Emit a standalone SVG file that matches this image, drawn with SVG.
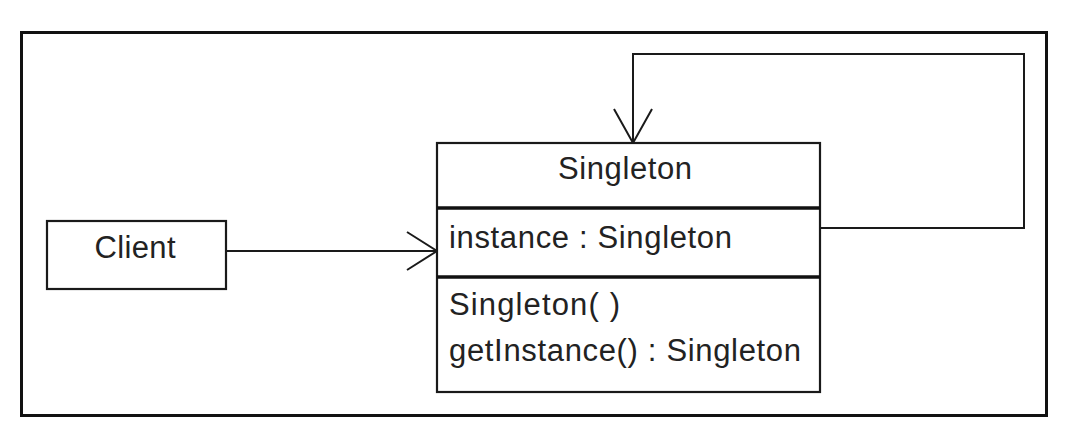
<svg xmlns="http://www.w3.org/2000/svg" width="1074" height="438" viewBox="0 0 1074 438">
<style>
.box{fill:#fff;stroke:#1a1a1a;stroke-width:2.2}
.div{stroke:#111;stroke-width:3.5}
.t{font-family:"Liberation Sans",Arial,sans-serif;font-size:31px;fill:#222}
.c{fill:none;stroke:#1a1a1a;stroke-width:2}
</style>
<rect x="0" y="0" width="1074" height="438" fill="#fff"/>
<rect x="21.5" y="32.5" width="1025" height="383" fill="none" stroke="#111" stroke-width="3"/>
<g id="connectors">
<path class="c" d="M226,251 H437"/>
<path class="c" d="M407,232 L437,251 L407,270"/>
<path class="c" d="M820,228 H1024 V54 H633 V143"/>
<path class="c" d="M614,109 L633,143 L652,109"/>
</g>
<g id="client">
<rect class="box" x="47" y="221" width="179" height="68"/>
<text class="t" x="135" y="258" text-anchor="middle" textLength="81">Client</text>
</g>
<g id="singleton">
<rect class="box" x="437" y="143" width="383" height="249"/>
<line class="div" x1="437" y1="208" x2="820" y2="208"/>
<line class="div" x1="437" y1="277" x2="820" y2="277"/>
<text class="t" x="625" y="179" text-anchor="middle" textLength="134">Singleton</text>
<text class="t" x="449" y="248" textLength="283">instance : Singleton</text>
<text class="t" x="449" y="315" textLength="171">Singleton( )</text>
<text class="t" x="449" y="361" textLength="352">getInstance() : Singleton</text>
</g>
</svg>
